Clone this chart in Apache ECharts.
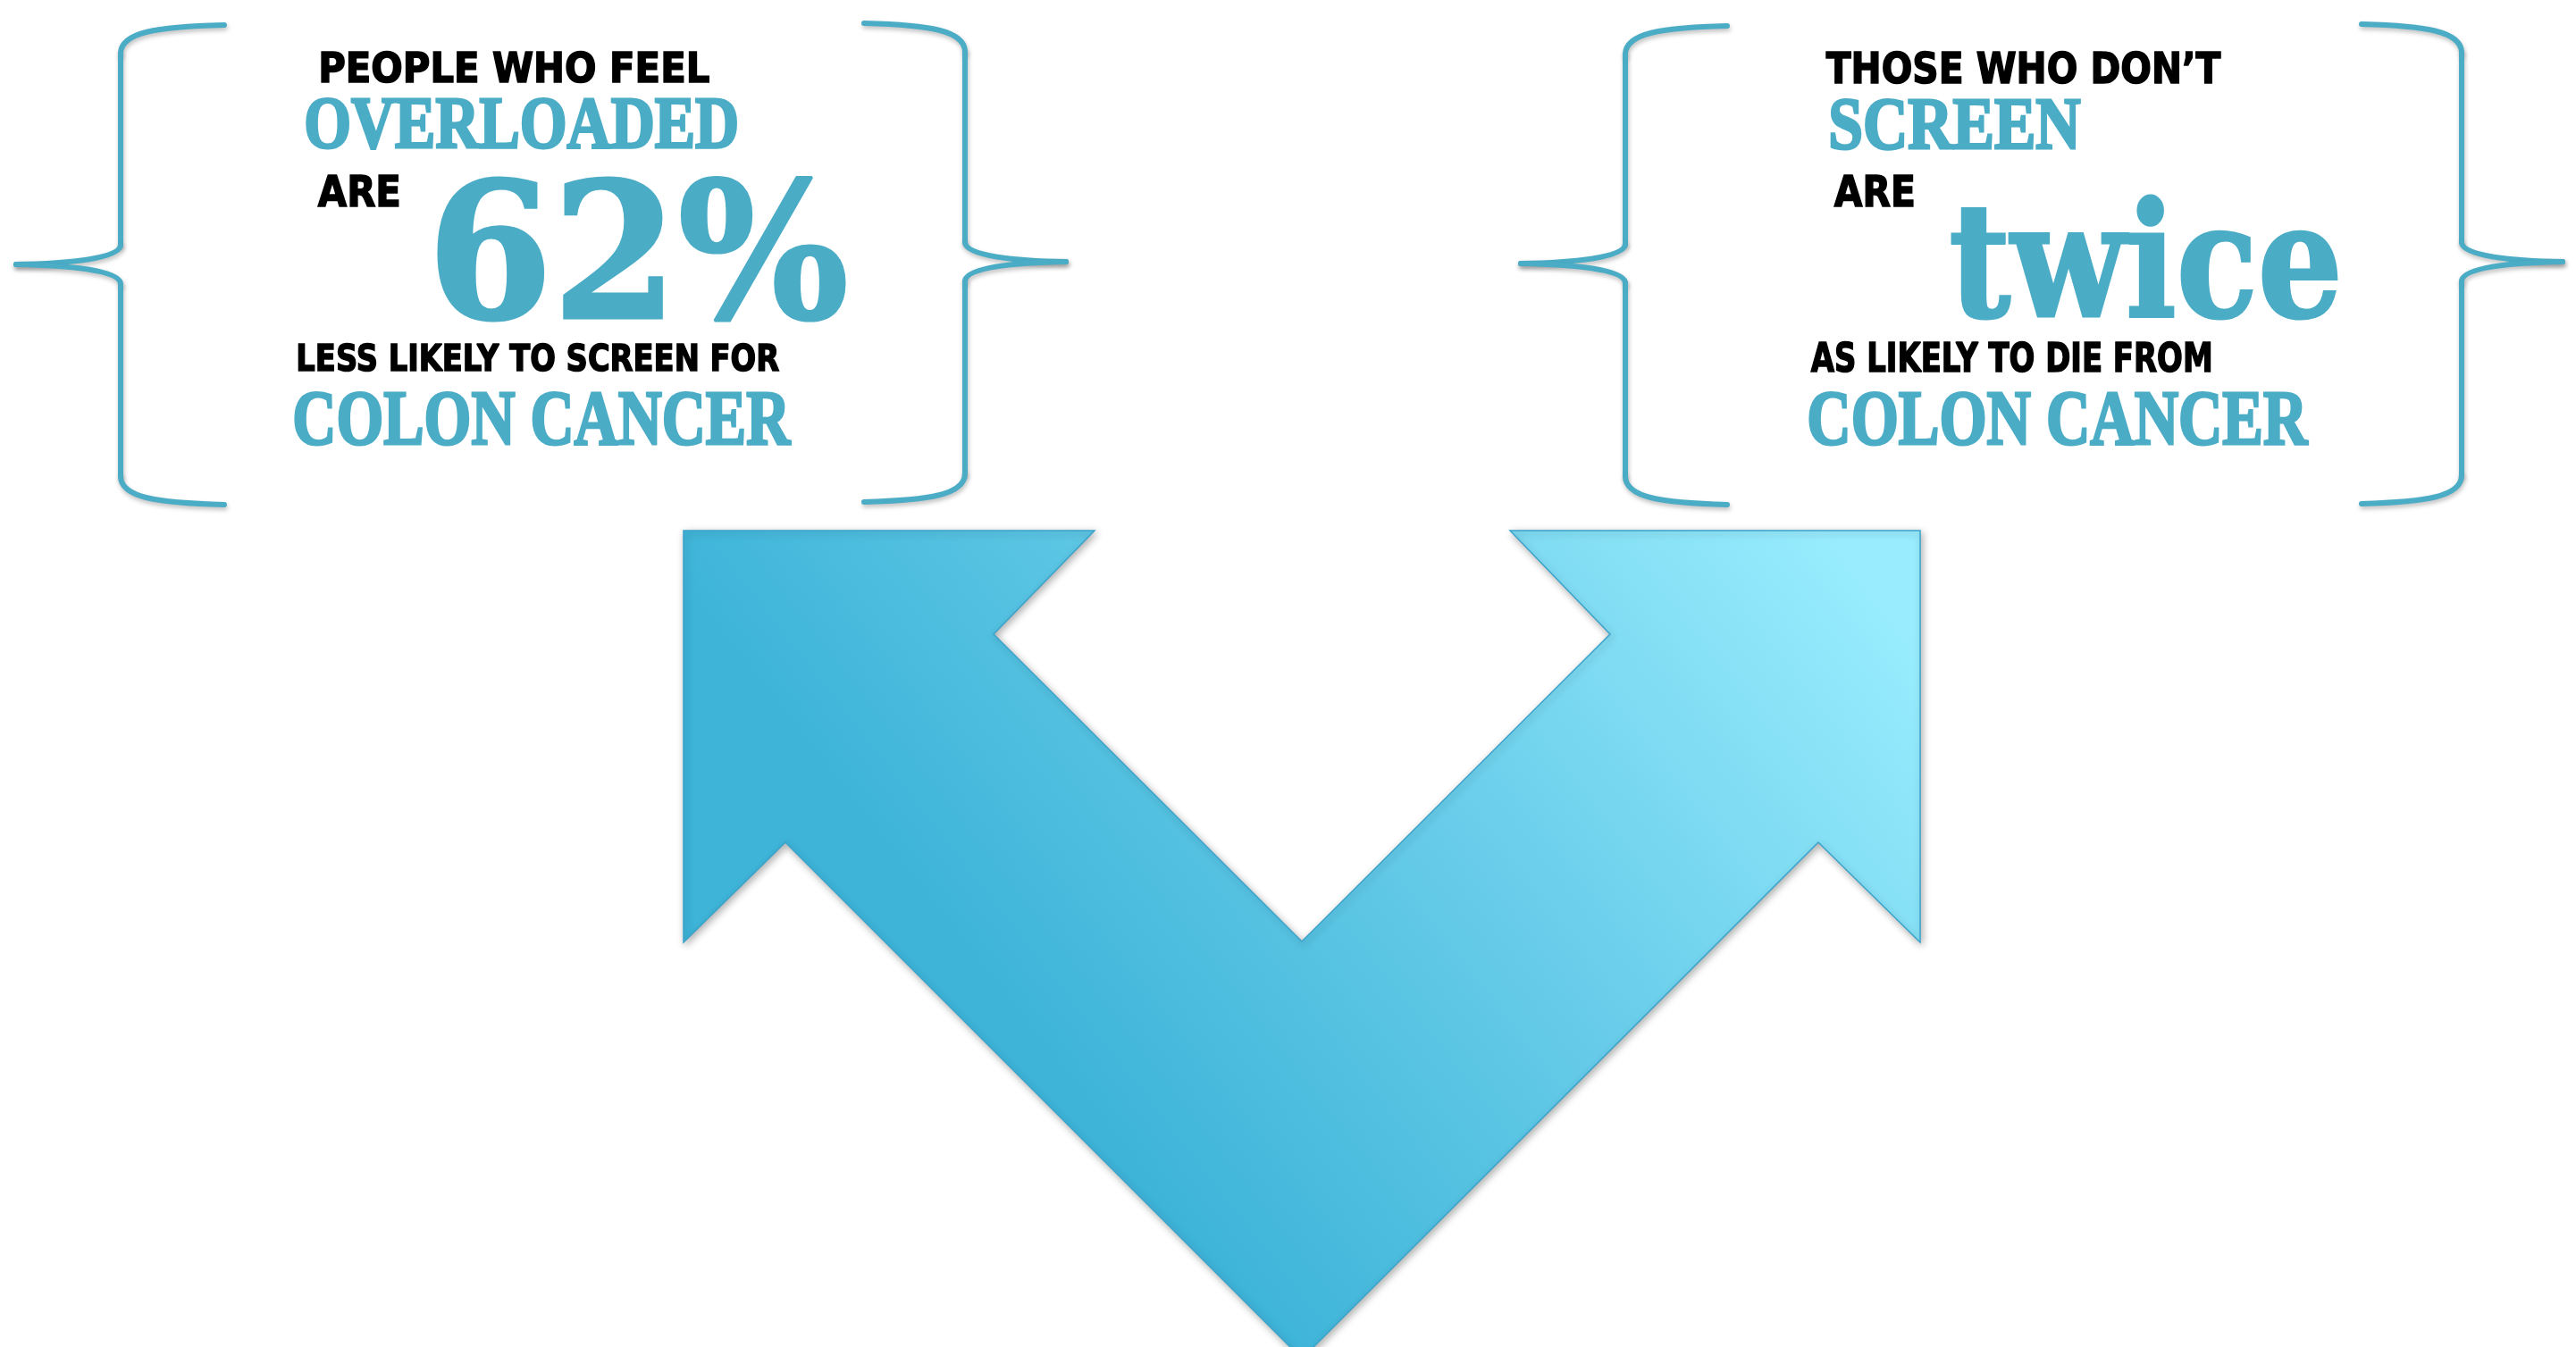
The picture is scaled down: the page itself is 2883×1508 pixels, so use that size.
<!DOCTYPE html>
<html>
<head>
<meta charset="utf-8">
<title>Colon cancer screening</title>
<script src="https://cdn.jsdelivr.net/npm/echarts@6/dist/echarts.min.js"></script>
<style>
  html, body { margin: 0; padding: 0; background: #fff; }
  #chart { width: 2883px; height: 1508px; }
</style>
</head>
<body>
<div id="chart"></div>
<script>
// texts of the two callouts
const leftLines = ['PEOPLE WHO FEEL', 'OVERLOADED', 'ARE', '62%', 'LESS LIKELY TO SCREEN FOR', 'COLON CANCER'];
const rightLines = ['THOSE WHO DON\u2019T', 'SCREEN', 'ARE', 'twice', 'AS LIKELY TO DIE FROM', 'COLON CANCER'];
// role of each line: small black label, teal keyword, big teal stat
const lineKinds = ['label', 'key', 'label', 'stat', 'label', 'key'];

const TEAL = '#4BACC6';

// font per kind (extra stroke makes the faces a bit heavier)
const kindFont = {
  label: { family: '"DejaVu Sans"', weight: 'bold', color: '#000000', extra: 1.6 },
  key:   { family: '"Liberation Serif"', weight: 'bold', color: TEAL, extra: 3 },
  stat:  { family: '"DejaVu Serif"', weight: 'bold', color: TEAL, extra: 3 }
};

// ink boxes: [left, top, baseline, width, reference glyph]
const leftBoxes = [
  [359, 58, 93, 435, 'H'],
  [342, 109, 166, 484, 'H'],
  [355, 195, 232, 92, 'H'],
  [489, 199, 357, 458, 'H'],
  [333, 384, 416, 540, 'H'],
  [329, 438, 498, 558, 'H']
];
const rightBoxes = [
  [2043, 58, 94, 443, 'H'],
  [2048, 109, 167, 282, 'H'],
  [2052, 195, 232, 90, 'H'],
  [2183, 259, 355, 434, 'x'],
  [2026, 383, 417, 449, 'H'],
  [2024, 438, 498, 561, 'H']
];

const measureCtx = document.createElement('canvas').getContext('2d');

// fit one line of text into its ink box (font size from glyph height, scaleX from width)
function fitText(str, kind, box) {
  const f = kindFont[kind];
  const [left, top, base, width, ref] = box;
  const e = f.extra;
  measureCtx.textBaseline = 'middle';
  measureCtx.textAlign = 'left';
  measureCtx.font = f.weight + ' 100px ' + f.family;
  const r0 = measureCtx.measureText(ref);
  const h100 = r0.actualBoundingBoxAscent + r0.actualBoundingBoxDescent;
  const fs = Math.round(100 * (base - top - e) / h100 * 10) / 10;
  const font = f.weight + ' ' + fs + 'px ' + f.family;
  measureCtx.font = font;
  const m = measureCtx.measureText(str);
  const rg = measureCtx.measureText(ref);
  const ink = m.actualBoundingBoxLeft + m.actualBoundingBoxRight;
  const sx = (width - e) / ink;
  return {
    type: 'text',
    x: left + e / 2 + sx * m.actualBoundingBoxLeft,
    y: base - e / 2 - rg.actualBoundingBoxDescent,
    scaleX: sx,
    style: {
      text: str,
      font: font,
      fill: f.color,
      stroke: f.color,
      lineWidth: e,
      align: 'left',
      textAlign: 'left',
      verticalAlign: 'middle',
      textVerticalAlign: 'middle'
    }
  };
}

const braceStyle = {
  fill: null,
  stroke: TEAL,
  lineWidth: 6,
  lineCap: 'round',
  shadowBlur: 5,
  shadowOffsetX: 1,
  shadowOffsetY: 3,
  shadowColor: 'rgba(0,0,0,0.25)'
};

function curve(x1, y1, c1x, c1y, c2x, c2y, x2, y2) {
  return {
    type: 'bezierCurve',
    shape: { x1: x1, y1: y1, cpx1: c1x, cpy1: c1y, cpx2: c2x, cpy2: c2y, x2: x2, y2: y2 },
    style: braceStyle
  };
}
function straight(x1, y1, x2, y2) {
  return { type: 'line', shape: { x1: x1, y1: y1, x2: x2, y2: y2 }, style: braceStyle };
}

// curly brace pieces; works for "{" and "}" depending on the side of the tip
function brace(xEnd, xV, xTip, yTop, yMid, yBot) {
  const d = xEnd > xV ? 1 : -1;
  const t = -d;
  return [
    curve(xEnd, yTop, xV + d * 40, yTop + 2, xV, yTop + 8, xV, yTop + 32),
    straight(xV, yTop + 32, xV, yMid - 22),
    curve(xV, yMid - 22, xV, yMid - 6, xTip - t * 55, yMid - 1, xTip, yMid),
    curve(xTip, yMid, xTip - t * 55, yMid + 1, xV, yMid + 6, xV, yMid + 22),
    straight(xV, yMid + 22, xV, yBot - 32),
    curve(xV, yBot - 32, xV, yBot - 8, xV + d * 40, yBot - 2, xEnd, yBot)
  ];
}

const braces = [
  [251, 135, 18, 28, 296, 565],
  [967, 1080, 1193, 26, 293, 562],
  [1933, 1819, 1702, 29, 295, 565],
  [2643, 2755, 2868, 27, 293, 564]
];

// two-headed V arrow outline
const arrowPoints = [
  [765, 594], [1225, 594], [1112, 710], [1457, 1054], [1802, 710], [1690, 594],
  [2149, 594], [2149, 1055], [2035, 943], [1457, 1521], [879, 943], [765, 1055]
];

const chart = echarts.init(document.getElementById('chart'));

const elements = [];

elements.push({
  type: 'polygon',
  shape: { points: arrowPoints },
  style: {
    fill: new echarts.graphic.LinearGradient(0.35, 0.75, 0.95, 0.05, [
      { offset: 0, color: '#3DB4D8' },
      { offset: 0.45, color: '#64CAE8' },
      { offset: 1, color: '#98ECFD' }
    ]),
    stroke: '#3AA3CB',
    lineWidth: 1.5,
    shadowBlur: 8,
    shadowOffsetX: 2,
    shadowOffsetY: 3,
    shadowColor: 'rgba(0,0,0,0.3)'
  }
});

braces.forEach(function (b) {
  brace.apply(null, b).forEach(function (el) { elements.push(el); });
});

leftLines.forEach(function (s, i) {
  elements.push(fitText(s, lineKinds[i], leftBoxes[i]));
});
rightLines.forEach(function (s, i) {
  elements.push(fitText(s, lineKinds[i], rightBoxes[i]));
});

chart.setOption({
  backgroundColor: '#ffffff',
  animation: false,
  graphic: { elements: elements }
});
</script>
</body>
</html>
